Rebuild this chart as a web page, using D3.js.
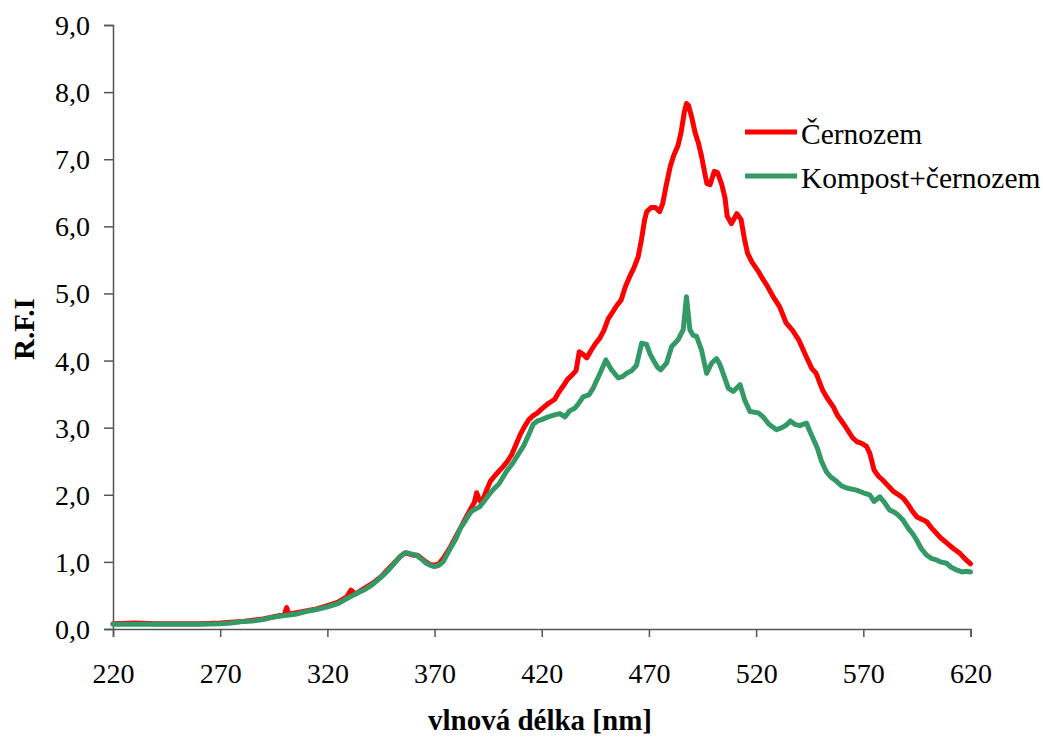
<!DOCTYPE html>
<html>
<head>
<meta charset="utf-8">
<script src="https://cdn.jsdelivr.net/npm/d3@7"></script>
<style>
  html, body { margin: 0; padding: 0; background: #fff; }
  svg { display: block; }
</style>
</head>
<body>
<svg id="chart" width="1043" height="738"></svg>
<script>
// ---- data ----
const seriesNames = ["Černozem", "Kompost+černozem"];
const seriesColors = ["#ff0000", "#339966"];
const xTicks = [220, 270, 320, 370, 420, 470, 520, 570, 620];
const yTicks = [0, 1, 2, 3, 4, 5, 6, 7, 8, 9];
const xTitle = "vlnová délka [nm]";
const yTitle = "R.F.I";

const cernozemNm = [220,230,240,250,260,270,280,290,298,300,301,302,305,310,315,320,325,329,331,333,337,341,345,348,351,354,356,358,360,362,364,366,368,370,372,374,377,380,382,385,387,388.5,389.6,391,392,394,396,398,400,402,404,406,408,410,412,414,416,418,420,423,426,428,430,432,434,436,437.5,439,441,443,445,447,449,451,453,455,457,459,461,463,465,466.5,468,469,471,473,475,476.5,478,480,481.5,483.5,485,486.5,487.5,488.5,490,491.5,493,494.5,496,497,498.5,500.5,502,504,505.5,506.5,508.5,511,513,514.5,516,518,521,523,525,528,531,534,537,540,543.5,546,548,551,553,556,558,560.5,563,565,567,569,571.5,573,575,577,579,582,584,586.5,588.6,591,593,595,597,599.5,602,604,606,609,612,615,617,620];
const cernozemVal = [0.08,0.09,0.08,0.08,0.08,0.09,0.11,0.15,0.2,0.22,0.32,0.22,0.24,0.27,0.3,0.35,0.40,0.48,0.58,0.52,0.6,0.68,0.78,0.88,0.98,1.08,1.13,1.12,1.10,1.10,1.05,1.0,0.96,0.95,0.97,1.05,1.2,1.38,1.5,1.68,1.8,1.88,2.03,1.92,1.88,2.05,2.2,2.28,2.35,2.42,2.5,2.6,2.75,2.9,3.02,3.12,3.18,3.22,3.28,3.36,3.42,3.53,3.62,3.72,3.78,3.85,4.13,4.1,4.04,4.15,4.25,4.33,4.45,4.62,4.72,4.82,4.9,5.1,5.25,5.38,5.55,5.8,6.1,6.22,6.28,6.28,6.22,6.35,6.6,6.9,7.05,7.2,7.4,7.7,7.83,7.8,7.62,7.4,7.25,7.05,6.8,6.64,6.62,6.82,6.8,6.62,6.42,6.15,6.04,6.19,6.1,5.82,5.6,5.47,5.33,5.22,5.12,4.95,4.8,4.56,4.45,4.3,4.05,3.88,3.81,3.56,3.45,3.31,3.18,3.07,2.95,2.85,2.79,2.77,2.72,2.62,2.37,2.28,2.22,2.12,2.05,2.0,1.95,1.85,1.75,1.67,1.64,1.60,1.5,1.43,1.36,1.28,1.2,1.13,1.06,0.97];

const kompostNm = [220,230,240,250,260,270,275,280,285,290,295,300,305,310,315,320,325,330,333,337,341,345,348,351,354,356.5,359,361.5,364,366,368,370,372,374,377,380,382,384.5,386.6,388,391,393,395.8,398,400,403.6,406,408,411.4,414,416,418,420,423,426,428.5,430.8,433,435.4,437,439.3,442,444,447.2,449.9,452.6,455.7,457.5,459.6,462,464.2,466.6,468.9,470.5,472,474,475.5,478.2,480.6,483.6,486,487.5,489.1,490.5,492.2,494.5,496.9,499.2,501.5,503,504.6,507,509.3,512.5,514.7,517.1,521,523.3,526,529.5,532,534.1,536,538,540.4,543.5,545,548.5,550.5,552.8,555,557.5,560,562.2,566.8,570,573,575,577.7,580,582.3,584,586.2,588.6,591,593,594.8,597,599.5,602,604.1,606,608.8,611,613.5,616,618,620];
const kompostVal = [0.07,0.07,0.07,0.07,0.07,0.08,0.09,0.11,0.12,0.14,0.18,0.2,0.22,0.26,0.29,0.33,0.38,0.47,0.52,0.58,0.66,0.77,0.86,0.97,1.08,1.14,1.12,1.10,1.04,0.98,0.95,0.93,0.95,1.0,1.18,1.35,1.5,1.62,1.73,1.77,1.82,1.9,2.02,2.1,2.16,2.35,2.45,2.55,2.72,2.9,3.05,3.1,3.12,3.16,3.19,3.21,3.16,3.25,3.29,3.35,3.46,3.49,3.59,3.81,4.01,3.86,3.74,3.76,3.81,3.85,3.93,4.26,4.24,4.1,4.01,3.9,3.86,3.96,4.21,4.31,4.46,4.95,4.46,4.38,4.36,4.16,3.81,3.96,4.03,3.95,3.81,3.59,3.54,3.64,3.41,3.24,3.22,3.16,3.05,2.97,3.0,3.04,3.10,3.05,3.03,3.07,2.95,2.70,2.5,2.34,2.26,2.2,2.13,2.10,2.07,2.03,2.0,1.90,1.97,1.88,1.77,1.75,1.7,1.62,1.5,1.42,1.33,1.2,1.10,1.05,1.03,1.0,0.98,0.92,0.88,0.85,0.86,0.85];

// ---- layout ----
const FONT = "'Liberation Serif', 'Times New Roman', Tinos, serif";
const svg = d3.select("#chart");
const x = d3.scaleLinear().domain([220, 620]).range([113, 970.5]);
const y = d3.scaleLinear().domain([0, 9]).range([629, 25]);
const fmt = v => d3.format(".1f")(v).replace(".", ",");

// axes
const xAxis = svg.append("g").attr("transform", "translate(0,629)")
  .call(d3.axisBottom(x).tickValues(xTicks).tickSize(8).tickPadding(14).tickFormat(d => d));
const yAxis = svg.append("g").attr("transform", "translate(113,0)")
  .call(d3.axisLeft(y).tickValues(yTicks).tickSize(9).tickPadding(14).tickFormat(fmt));
[xAxis, yAxis].forEach(g => {
  g.attr("font-family", null).attr("font-size", null);
  g.selectAll("path.domain").attr("stroke", "#555").attr("stroke-width", 1.5);
  g.selectAll(".tick line").attr("stroke", "#555").attr("stroke-width", 1.5);
  g.selectAll(".tick text").style("font-family", FONT)
    .style("font-size", "28px").attr("fill", "#000");
});
xAxis.selectAll(".tick text").attr("dy", null).attr("y", 54);
yAxis.selectAll(".tick text").attr("dy", "0.34em");

// lines
const line = d3.line().x(d => x(d[0])).y(d => y(d[1])).curve(d3.curveLinear);
const series = [
  d3.zip(cernozemNm, cernozemVal),
  d3.zip(kompostNm, kompostVal)
];
series.forEach((s, i) => {
  svg.append("path").datum(s)
    .attr("fill", "none").attr("stroke", seriesColors[i])
    .attr("stroke-width", 5).attr("stroke-linejoin", "round").attr("stroke-linecap", "round")
    .attr("d", line);
});

// axis titles
svg.append("text").attr("x", 540).attr("y", 730).attr("text-anchor", "middle")
  .style("font-family", FONT).style("font-size", "29px").style("font-weight", "bold").text(xTitle);
svg.append("text").attr("transform", "translate(34,329) rotate(-90)").attr("text-anchor", "middle")
  .style("font-family", FONT).style("font-size", "29px").style("font-weight", "bold").text(yTitle);

// legend
const legY = [132, 176];
seriesNames.forEach((n, i) => {
  svg.append("line").attr("x1", 745).attr("x2", 797).attr("y1", legY[i]).attr("y2", legY[i])
    .attr("stroke", seriesColors[i]).attr("stroke-width", 5);
  svg.append("text").attr("x", 801).attr("y", legY[i] + 11.5)
    .style("font-family", FONT).style("font-size", "29.5px").text(n);
});
</script>
</body>
</html>
